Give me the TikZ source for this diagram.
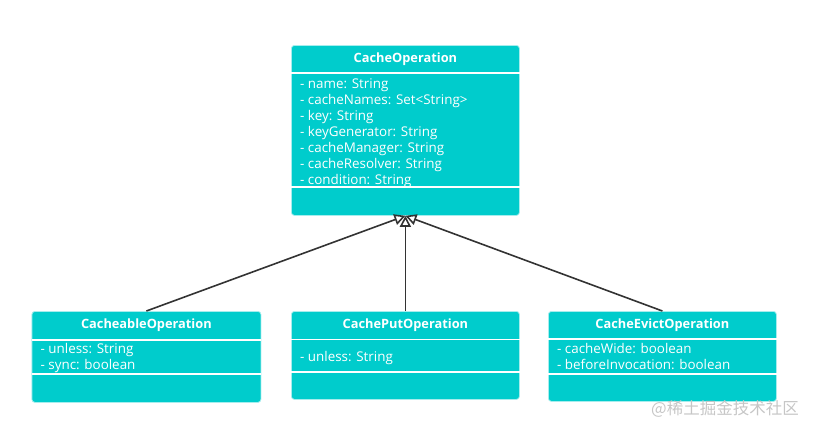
\documentclass[tikz,border=0pt]{standalone}
\usepackage{fontspec}
\setmainfont{Open Sans}
\newfontfamily\cjkfont{Noto Sans CJK SC}
\usetikzlibrary{arrows.meta}
\definecolor{umlteal}{HTML}{00CCCC}
\definecolor{linegray}{HTML}{333333}
\begin{document}
\begin{tikzpicture}[x=1pt, y=-1pt, font=\fontsize{13.4}{16}\selectfont,
    cls/.style={fill=umlteal, draw=umlteal!35, line width=0.8pt, rounded corners=3pt, anchor=north west, inner sep=0pt},
    sep/.style={white, line width=1.6pt},
    ttl/.style={text=white, font=\fontsize{12.8}{14}\selectfont\bfseries},
    attr/.style={text=white, align=left, anchor=north west, inner sep=0pt},
    inh/.style={draw=linegray, line width=1.6pt, -{Triangle[open, length=11pt, width=11pt]}}]
  \useasboundingbox (0,0) rectangle (817,434);
  \node[cls, minimum width=228pt, minimum height=170pt] (op) at (291,45) {};
  \draw[sep] ([yshift=-28pt]op.north west) -- ([yshift=-28pt]op.north east);
  \draw[sep] ([yshift=-142pt]op.north west) -- ([yshift=-142pt]op.north east);
  \node[ttl] (opT) at ([yshift=-14pt]op.north) {CacheOperation};
  \node[attr] (opA) at ([xshift=9pt, yshift=-33pt]op.north west) {- name: String\\- cacheNames: Set<String>\\- key: String\\- keyGenerator: String\\- cacheManager: String\\- cacheResolver: String\\- condition: String};
  \node[cls, minimum width=229pt, minimum height=91pt] (able) at (31.5,311) {};
  \draw[sep] ([yshift=-29pt]able.north west) -- ([yshift=-29pt]able.north east);
  \draw[sep] ([yshift=-63pt]able.north west) -- ([yshift=-63pt]able.north east);
  \node[ttl] (ableT) at ([yshift=-14.5pt]able.north) {CacheableOperation};
  \node[attr] (ableA) at ([xshift=9pt, yshift=-32.5pt]able.north west) {- unless: String\\- sync: boolean};
  \node[cls, minimum width=228pt, minimum height=88pt] (put) at (291,311) {};
  \draw[sep] ([yshift=-28.5pt]put.north west) -- ([yshift=-28.5pt]put.north east);
  \draw[sep] ([yshift=-61pt]put.north west) -- ([yshift=-61pt]put.north east);
  \node[ttl] (putT) at ([yshift=-14.5pt]put.north) {CachePutOperation};
  \node[attr] (putA) at ([xshift=9pt, yshift=-40pt]put.north west) {- unless: String};
  \node[cls, minimum width=228pt, minimum height=90pt] (evict) at (548,311) {};
  \draw[sep] ([yshift=-28pt]evict.north west) -- ([yshift=-28pt]evict.north east);
  \draw[sep] ([yshift=-63pt]evict.north west) -- ([yshift=-63pt]evict.north east);
  \node[ttl] (evictT) at ([yshift=-14.5pt]evict.north) {CacheEvictOperation};
  \node[attr] (evictA) at ([xshift=9pt, yshift=-32.5pt]evict.north west) {- cacheWide: boolean\\- beforeInvocation: boolean};
  \draw[inh] (able.north) -- (op.south);
  \draw[inh] (put.north) -- (op.south);
  \draw[inh] (evict.north) -- (op.south);
  \node[text=gray!45, font=\cjkfont\fontsize{16.5}{17}\selectfont] (wm) at (725,409) {@稀土掘金技术社区};
\end{tikzpicture}
\end{document}
